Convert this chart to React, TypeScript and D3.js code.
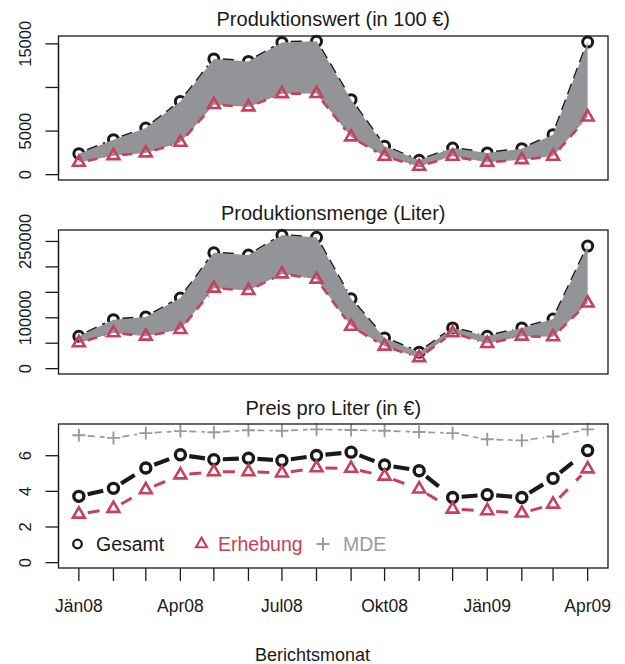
import React from "react";
import * as d3 from "d3";

// Berichtsmonate Jänner 2008 bis April 2009
const months = [
  "2008-01-01", "2008-02-01", "2008-03-01", "2008-04-01", "2008-05-01", "2008-06-01",
  "2008-07-01", "2008-08-01", "2008-09-01", "2008-10-01", "2008-11-01", "2008-12-01",
  "2009-01-01", "2009-02-01", "2009-03-01", "2009-04-01",
];
const labelMonths = ["2008-01-01", "2008-04-01", "2008-07-01", "2008-10-01", "2009-01-01", "2009-04-01"];
const labelTexts = ["Jän08", "Apr08", "Jul08", "Okt08", "Jän09", "Apr09"];

// Produktionswert (in 100 €)
const wertGesamt = [2410, 4010, 5350, 8400, 13270, 12990, 15170, 15290, 8600, 3250, 1640, 3060, 2490, 2980, 4590, 15200];
const wertErhebung = [1410, 2180, 2490, 3700, 8030, 7760, 9290, 9300, 4320, 2100, 950, 2100, 1410, 1720, 2100, 6610];
const wertTicks = [0, 5000, 10000, 15000];
const wertTickLabels = ["0", "5000", "", "15000"];

// Produktionsmenge (Liter)
const mengeGesamt = [63700, 96300, 101600, 138700, 227700, 223200, 262000, 258000, 137300, 60500, 32400, 80100, 63700, 80100, 97600, 240800];
const mengeErhebung = [50800, 70300, 63700, 76800, 158200, 153500, 186100, 175800, 83200, 44100, 21500, 70300, 49400, 63700, 62500, 128900];
const mengeTicks = [0, 50000, 100000, 150000, 200000, 250000];
const mengeTickLabels = ["0", "", "100000", "", "", "250000"];

// Preis pro Liter (in €)
const preisGesamt = [3.72, 4.17, 5.31, 6.05, 5.78, 5.86, 5.73, 6.01, 6.2, 5.48, 5.16, 3.66, 3.81, 3.66, 4.73, 6.29];
const preisErhebung = [2.72, 3.04, 4.09, 4.92, 5.1, 5.1, 5.03, 5.32, 5.29, 4.85, 4.13, 3.0, 2.91, 2.78, 3.28, 5.26];
const preisMDE = [7.15, 7.0, 7.27, 7.38, 7.32, 7.43, 7.4, 7.48, 7.44, 7.4, 7.33, 7.27, 6.92, 6.86, 7.08, 7.48];
const preisTicks = [0, 2, 4, 6];
const preisTickLabels = ["0", "2", "4", "6"];

const FONT = "Liberation Sans, Arial, Helvetica, sans-serif";
const BLACK = "#1a1a1a";
const RED = "#c8405c";
const GREY = "#9a9a9a";
const FILL = "#929497";

const W = 625, H = 664;
const left = 58.5, right = 608;
const panelH = 144;

const dates = months.map(d => new Date(d + "T00:00:00Z"));
const t0 = +dates[0], t1 = +dates[dates.length - 1];
const pad = (t1 - t0) * 0.04;
const x = d3.scaleUtc().domain([new Date(t0 - pad), new Date(t1 + pad)]).range([left, right]);

function yScale(vals: number[], top: number) {
  const mx = d3.max(vals) as number;
  return d3.scaleLinear().domain([-0.04 * mx, 1.04 * mx]).range([top + panelH, top]);
}

// type="b": Liniensegmente mit Lücke um die Punkte
function segs(vals: number[], y: d3.ScaleLinear<number, number>, gap: number) {
  const out: string[] = [];
  for (let i = 0; i < vals.length - 1; i++) {
    const x0 = x(dates[i]), y0 = y(vals[i]);
    const x1 = x(dates[i + 1]), y1 = y(vals[i + 1]);
    const len = Math.hypot(x1 - x0, y1 - y0);
    if (len <= 2 * gap) continue;
    const ux = (x1 - x0) / len, uy = (y1 - y0) / len;
    out.push(`M${x0 + ux * gap},${y0 + uy * gap}L${x1 - ux * gap},${y1 - uy * gap}`);
  }
  return out;
}

function triPath(cx: number, cy: number, r: number) {
  const a = 1.5551 * r, h = 1.3468 * r, b = 0.7776 * r;
  return `M${cx},${cy - a}L${cx + h},${cy + b}L${cx - h},${cy + b}Z`;
}

function plusPath(cx: number, cy: number, r: number) {
  return `M${cx - r},${cy}H${cx + r}M${cx},${cy - r}V${cy + r}`;
}

function YAxis({ y, ticks, labels }: { y: d3.ScaleLinear<number, number>; ticks: number[]; labels: string[] }) {
  return (
    <g>
      <line x1={left} x2={left} y1={y(ticks[0])} y2={y(ticks[ticks.length - 1])} stroke={BLACK} strokeWidth={1.3} />
      {ticks.map((t, i) => (
        <g key={i}>
          <line x1={left - 13} x2={left} y1={y(t)} y2={y(t)} stroke={BLACK} strokeWidth={1.3} />
          {labels[i] && (
            <text transform={`translate(31,${y(t)}) rotate(-90)`} textAnchor="middle" fontSize={16.5} fontFamily={FONT} fill={BLACK}>
              {labels[i]}
            </text>
          )}
        </g>
      ))}
    </g>
  );
}

function AreaPanel({ top, title, ges, erh, ticks, labels }: {
  top: number; title: string; ges: number[]; erh: number[]; ticks: number[]; labels: string[];
}) {
  const y = yScale(ges.concat(erh), top);
  const area = d3.area<number>()
    .x((_, i) => x(dates[i]))
    .y0((_, i) => y(erh[i]))
    .y1(d => y(d));
  return (
    <g>
      <text x={(left + right) / 2} y={top - 10} textAnchor="middle" fontSize={20} fontFamily={FONT} fill={BLACK}>{title}</text>
      {segs(ges, y, 9).map((d, i) => (
        <path key={"g" + i} d={d} stroke={BLACK} strokeWidth={2.6} strokeDasharray="11,6" fill="none" />
      ))}
      {ges.map((v, i) => (
        <circle key={"c" + i} cx={x(dates[i])} cy={y(v)} r={5} fill="none" stroke={BLACK} strokeWidth={3} />
      ))}
      <path d={area(ges) as string} fill={FILL} stroke="none" />
      {segs(erh, y, 9).map((d, i) => (
        <path key={"e" + i} d={d} stroke={RED} strokeWidth={2.6} strokeDasharray="10,7" fill="none" />
      ))}
      {erh.map((v, i) => (
        <path key={"t" + i} d={triPath(x(dates[i]), y(v), 4.4)} fill="none" stroke={RED} strokeWidth={2.6} strokeLinejoin="miter" />
      ))}
      <YAxis y={y} ticks={ticks} labels={labels} />
      <rect x={left} y={top} width={right - left} height={panelH} fill="none" stroke={BLACK} strokeWidth={1.3} />
    </g>
  );
}

function PricePanel({ top }: { top: number }) {
  const y = yScale(preisGesamt.concat(preisErhebung, preisMDE), top);
  const bottom = top + panelH;
  return (
    <g>
      <text x={(left + right) / 2} y={top - 9} textAnchor="middle" fontSize={20} fontFamily={FONT} fill={BLACK}>Preis pro Liter (in €)</text>
      {segs(preisMDE, y, 9).map((d, i) => (
        <path key={"m" + i} d={d} stroke={GREY} strokeWidth={1.7} strokeDasharray="7,5" fill="none" />
      ))}
      {preisMDE.map((v, i) => (
        <path key={"p" + i} d={plusPath(x(dates[i]), y(v), 6.5)} stroke={GREY} strokeWidth={1.9} fill="none" />
      ))}
      {segs(preisGesamt, y, 9).map((d, i) => (
        <path key={"g" + i} d={d} stroke={BLACK} strokeWidth={4.2} strokeDasharray="16,16" fill="none" />
      ))}
      {preisGesamt.map((v, i) => (
        <circle key={"c" + i} cx={x(dates[i])} cy={y(v)} r={5} fill="none" stroke={BLACK} strokeWidth={3.4} />
      ))}
      {segs(preisErhebung, y, 9).map((d, i) => (
        <path key={"e" + i} d={d} stroke={RED} strokeWidth={3} strokeDasharray="12,12" fill="none" />
      ))}
      {preisErhebung.map((v, i) => (
        <path key={"t" + i} d={triPath(x(dates[i]), y(v), 4.4)} fill="none" stroke={RED} strokeWidth={2.6} />
      ))}
      <YAxis y={y} ticks={preisTicks} labels={preisTickLabels} />
      <rect x={left} y={top} width={right - left} height={panelH} fill="none" stroke={BLACK} strokeWidth={1.3} />

      {/* Legende */}
      <g fontFamily={FONT} fontSize={19.5}>
        <circle cx={77.5} cy={544} r={4.3} fill="none" stroke={BLACK} strokeWidth={2.3} />
        <text x={96} y={551} fill={BLACK}>Gesamt</text>
        <path d={triPath(201.5, 544, 4.1)} fill="none" stroke={RED} strokeWidth={2.1} />
        <text x={218} y={551} fill={RED}>Erhebung</text>
        <path d={plusPath(323, 544, 6.5)} stroke={GREY} strokeWidth={1.9} fill="none" />
        <text x={343} y={551} fill={GREY}>MDE</text>
      </g>

      {/* x-Achse */}
      {dates.map((d, i) => (
        <line key={"xt" + i} x1={x(d)} x2={x(d)} y1={bottom} y2={bottom + 13} stroke={BLACK} strokeWidth={1.3} />
      ))}
      {labelMonths.map((m, i) => (
        <text key={"xl" + i} x={x(new Date(m + "T00:00:00Z"))} y={612} textAnchor="middle" fontSize={17.5} fontFamily={FONT} fill={BLACK}>
          {labelTexts[i]}
        </text>
      ))}
      <text x={W / 2} y={661} textAnchor="middle" fontSize={18} fontFamily={FONT} fill={BLACK}>Berichtsmonat</text>
    </g>
  );
}

export default function App() {
  return (
    <svg width={W} height={H} style={{ position: "absolute", left: 0, top: 0, background: "#fff" }}>
      <AreaPanel top={36} title="Produktionswert (in 100 €)" ges={wertGesamt} erh={wertErhebung} ticks={wertTicks} labels={wertTickLabels} />
      <AreaPanel top={230} title="Produktionsmenge (Liter)" ges={mengeGesamt} erh={mengeErhebung} ticks={mengeTicks} labels={mengeTickLabels} />
      <PricePanel top={424} />
    </svg>
  );
}
